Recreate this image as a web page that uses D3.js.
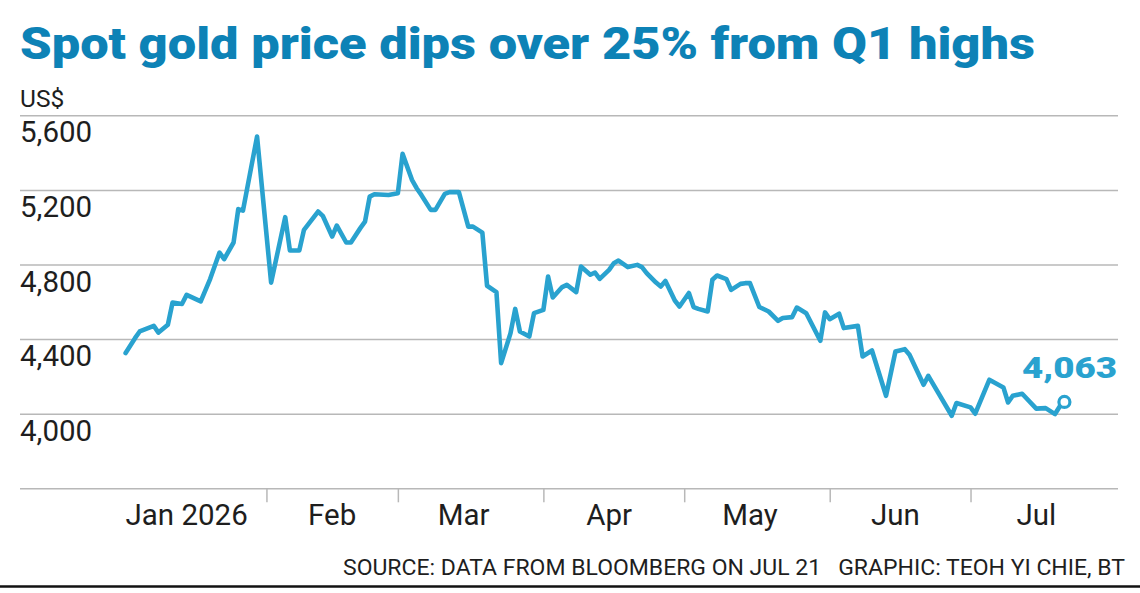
<!DOCTYPE html>
<html><head><meta charset="utf-8">
<script src="https://cdn.jsdelivr.net/npm/d3@7/dist/d3.min.js"></script>
<style>
html,body{margin:0;padding:0;background:#fff;}
svg{display:block;}
text{font-family:Roboto,"Liberation Sans",sans-serif;}
</style></head>
<body>
<svg id="chart" width="1140" height="593"></svg>
<script>
const dates = ["2026-01-02","2026-01-04","2026-01-05","2026-01-08","2026-01-09","2026-01-11","2026-01-12","2026-01-14","2026-01-15","2026-01-18",
"2026-01-20","2026-01-22","2026-01-23","2026-01-25","2026-01-26","2026-01-27","2026-01-30","2026-02-02","2026-02-05","2026-02-06",
"2026-02-08","2026-02-09","2026-02-12","2026-02-13","2026-02-15","2026-02-16","2026-02-18","2026-02-19","2026-02-21","2026-02-22",
"2026-02-23","2026-02-24","2026-02-27","2026-03-01","2026-03-02","2026-03-04","2026-03-05","2026-03-06","2026-03-08","2026-03-09",
"2026-03-11","2026-03-12","2026-03-14","2026-03-16","2026-03-17","2026-03-19","2026-03-20","2026-03-22","2026-03-23","2026-03-25",
"2026-03-26","2026-03-27","2026-03-29","2026-03-30","2026-04-01","2026-04-02","2026-04-03","2026-04-05","2026-04-06","2026-04-08",
"2026-04-09","2026-04-11","2026-04-12","2026-04-13","2026-04-15","2026-04-16","2026-04-17","2026-04-19","2026-04-21","2026-04-22",
"2026-04-23","2026-04-25","2026-04-26","2026-04-27","2026-04-29","2026-04-30","2026-05-02","2026-05-03","2026-05-04","2026-05-06",
"2026-05-07","2026-05-08","2026-05-10","2026-05-11","2026-05-13","2026-05-14","2026-05-15","2026-05-17","2026-05-19","2026-05-21",
"2026-05-22","2026-05-24","2026-05-25","2026-05-27","2026-05-30","2026-05-31","2026-06-01","2026-06-03","2026-06-04","2026-06-07",
"2026-06-08","2026-06-10","2026-06-13","2026-06-15","2026-06-17","2026-06-18","2026-06-21","2026-06-22","2026-06-27","2026-06-28",
"2026-07-01","2026-07-02","2026-07-05","2026-07-08","2026-07-09","2026-07-10","2026-07-12","2026-07-15","2026-07-17","2026-07-19",
"2026-07-20","2026-07-21"];
const prices = [4325,4405,4441,4471,4435,4477,4596,4588,4637,4602,
4722,4864,4829,4918,5097,5089,5486,4703,5054,4875,
4875,4986,5084,5061,4950,5009,4918,4918,4995,5030,
5164,5177,5173,5182,5393,5254,5209,5173,5093,5093,
5179,5188,5188,5003,5003,4971,4686,4652,4271,4432,
4562,4441,4414,4539,4557,4735,4623,4679,4691,4652,
4789,4745,4757,4723,4771,4807,4821,4786,4798,4786,
4754,4703,4682,4712,4607,4575,4647,4572,4562,4548,
4718,4741,4722,4664,4696,4700,4700,4572,4548,4498,
4513,4518,4569,4539,4391,4543,4507,4536,4459,4471,
4307,4339,4096,4334,4346,4316,4155,4203,3989,4057,
4034,4000,4182,4141,4060,4096,4107,4027,4030,3998,
4039,4063];
const yTicks = [3600,4000,4400,4800,5200,5600];
const monthTicks = ["2026-02-01","2026-03-01","2026-04-01","2026-05-01","2026-06-01","2026-07-01"];
const monthLabels = ["Jan 2026","Feb","Mar","Apr","May","Jun","Jul"];
const monthLabelDates = ["2026-01-15","2026-02-15","2026-03-15","2026-04-15","2026-05-15","2026-06-15","2026-07-15"];
const titleText = "Spot gold price dips over 25% from Q1 highs";
const unitText = "US$";
const sourceText = "SOURCE: DATA FROM BLOOMBERG ON JUL 21   GRAPHIC: TEOH YI CHIE, BT";
const lastLabel = "4,063";

const parse = d3.timeParse("%Y-%m-%d");
const data = dates.map((d,i)=>({date:parse(d), value:prices[i]}));

const svg = d3.select("#chart");
const pLeft = 20, pRight = 1118, pTop = 115.3, pBottom = 488.3;

const x = d3.scaleTime()
  .domain([new Date(2025,11,10,12), new Date(2026,7,1,10)])
  .range([pLeft, pRight]);
const y = d3.scaleLinear().domain([3600,5600]).range([pBottom, pTop]);

const titleBlue = "#0d82b6";
const lineBlue = "#29a2cf";
const grey = "#b8b8b8";
const ink = "#1e1e1e";

// title
svg.append("text").attr("x",20).attr("y",59)
  .attr("font-size",44).attr("font-weight",900).attr("fill",titleBlue)
  .attr("textLength",1015).attr("lengthAdjust","spacingAndGlyphs")
  .text(titleText);

svg.append("text").attr("x",20).attr("y",107)
  .attr("font-size",24.5).attr("fill",ink).text(unitText);

// gridlines
const yAxis = d3.axisLeft(y).tickValues(yTicks).tickSize(-(pRight-pLeft)).tickFormat("");
const gy = svg.append("g").attr("transform",`translate(${pLeft},0)`).call(yAxis);
gy.select(".domain").remove();
gy.selectAll(".tick line").attr("stroke",grey).attr("stroke-width",1.5);

// y labels below gridlines
svg.append("g").selectAll("text").data(yTicks.filter(v=>v>3600)).join("text")
  .attr("x",20).attr("y",d=>y(d)+27)
  .attr("font-size",29.5).attr("fill",ink)
  .text(d=>d3.format(",")(d));

// x axis ticks
const xAxis = d3.axisBottom(x).tickValues(monthTicks.map(parse)).tickSize(14).tickFormat("");
const gx = svg.append("g").attr("transform",`translate(0,${pBottom})`).call(xAxis);
gx.select(".domain").remove();
gx.selectAll(".tick line").attr("stroke",grey).attr("stroke-width",1.5);

svg.append("g").selectAll("text").data(monthLabels).join("text")
  .attr("x",(d,i)=>x(parse(monthLabelDates[i]))).attr("y",525)
  .attr("text-anchor","middle").attr("font-size",29.5).attr("fill",ink)
  .text(d=>d);

// line
const line = d3.line().x(d=>x(d.date)).y(d=>y(d.value));
svg.append("path").datum(data).attr("d",line)
  .attr("fill","none").attr("stroke",lineBlue).attr("stroke-width",4.6)
  .attr("stroke-linejoin","round").attr("stroke-linecap","round");

const last = data[data.length-1];
svg.append("circle").attr("cx",x(last.date)).attr("cy",y(last.value)).attr("r",5.5)
  .attr("fill","#fff").attr("stroke",lineBlue).attr("stroke-width",3.2);
svg.append("text").attr("x",1117).attr("y",377.5).attr("text-anchor","end")
  .attr("font-size",29).attr("font-weight",900).attr("fill",lineBlue)
  .attr("textLength",95).attr("lengthAdjust","spacingAndGlyphs")
  .text(lastLabel);

// source
svg.append("text").attr("x",343).attr("y",575)
  .attr("font-size",22.5).attr("fill",ink)
  .attr("textLength",782).attr("lengthAdjust","spacingAndGlyphs")
  .style("white-space","pre")
  .text(sourceText);

svg.append("line").attr("x1",0).attr("x2",1140).attr("y1",586.5).attr("y2",586.5)
  .attr("stroke","#111").attr("stroke-width",2.5);
</script>
</body></html>
